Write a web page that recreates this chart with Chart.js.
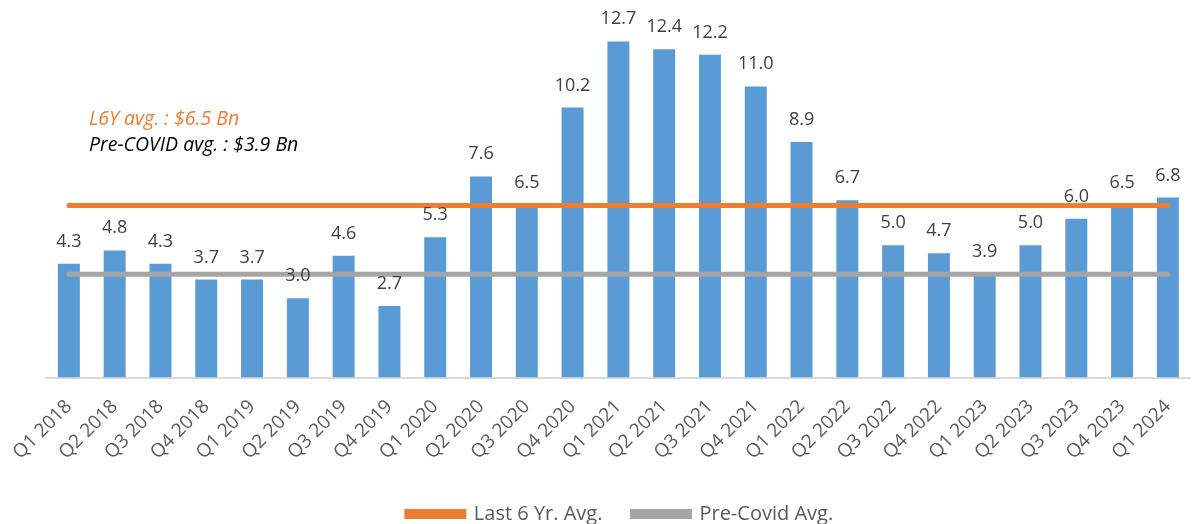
<!DOCTYPE html>
<html><head><meta charset="utf-8">
<script src="https://cdn.jsdelivr.net/npm/chart.js@4.4.1/dist/chart.umd.min.js"></script>
<style>html,body{margin:0;padding:0;background:#fff;}#wrap{width:1194px;height:524px;position:relative;}</style>
</head><body><div id="wrap"><canvas id="c"></canvas></div>
<script>
const categories = ["Q1 2018","Q2 2018","Q3 2018","Q4 2018","Q1 2019","Q2 2019","Q3 2019","Q4 2019","Q1 2020","Q2 2020","Q3 2020","Q4 2020","Q1 2021","Q2 2021","Q3 2021","Q4 2021","Q1 2022","Q2 2022","Q3 2022","Q4 2022","Q1 2023","Q2 2023","Q3 2023","Q4 2023","Q1 2024"];
const values = [4.3,4.8,4.3,3.7,3.7,3.0,4.6,2.7,5.3,7.6,6.5,10.2,12.7,12.4,12.2,11.0,8.9,6.7,5.0,4.7,3.9,5.0,6.0,6.5,6.8];
const l6yAvg = 6.5;
const preCovidAvg = 3.9;
const seriesNames = ["Last 6 Yr. Avg.","Pre-Covid Avg."];
const notes = ["L6Y avg. : $6.5 Bn","Pre-COVID avg. : $3.9 Bn"];

const FONT = "'Open Sans', sans-serif";

const labelPlugin = {
  id: 'valLabels',
  afterDatasetsDraw(chart) {
    const ctx = chart.ctx;
    const meta = chart.getDatasetMeta(2);
    ctx.save();
    ctx.font = "18px " + FONT;
    ctx.fillStyle = "#404040";
    ctx.textAlign = "center";
    ctx.textBaseline = "alphabetic";
    meta.data.forEach((bar, i) => {
      ctx.fillText(values[i].toFixed(1), bar.x, bar.y - 17);
    });
    ctx.textAlign = "left";
    ctx.font = "italic 19.5px " + FONT;
    ctx.fillStyle = "#ED7D31";
    ctx.fillText(notes[0], 89, 125);
    ctx.fillStyle = "#000000";
    ctx.fillText(notes[1], 89, 151);
    ctx.restore();
  }
};

new Chart(document.getElementById('c'), {
  data: {
    labels: categories,
    datasets: [
      { type: 'line', label: seriesNames[0], data: [{x: categories[0], y: l6yAvg}, {x: categories[categories.length-1], y: l6yAvg}],
        borderColor: '#ED7D31', backgroundColor: '#ED7D31', borderWidth: 5, pointRadius: 0, borderCapStyle: 'round', order: 0 },
      { type: 'line', label: seriesNames[1], data: [{x: categories[0], y: preCovidAvg}, {x: categories[categories.length-1], y: preCovidAvg}],
        borderColor: '#A5A5A5', backgroundColor: '#A5A5A5', borderWidth: 5, pointRadius: 0, borderCapStyle: 'round', order: 1 },
      { type: 'bar', label: 'Value', data: values, backgroundColor: '#5B9BD5', borderColor: '#5B9BD5',
        categoryPercentage: 1.0, barPercentage: 0.48, order: 2 }
    ]
  },
  options: {
    responsive: true, maintainAspectRatio: false, animation: false,
    layout: { padding: { left: 46, right: 0, top: 7, bottom: -10 } },
    plugins: {
      legend: {
        position: 'bottom',
        labels: {
          filter: (item) => item.datasetIndex < 2,
          boxWidth: 57, boxHeight: 5, padding: 30,
          color: '#595959', font: { family: FONT, size: 20 }
        }
      },
      tooltip: { enabled: false }
    },
    scales: {
      x: {
        grid: { display: false },
        border: { display: true, color: '#D9D9D9', width: 2 },
        ticks: { color: '#595959', font: { family: FONT, size: 19 }, minRotation: 45, maxRotation: 45, autoSkip: false, padding: 10 }
      },
      y: { display: false, min: 0, max: 14 }
    }
  },
  plugins: [labelPlugin]
});
</script></body></html>
